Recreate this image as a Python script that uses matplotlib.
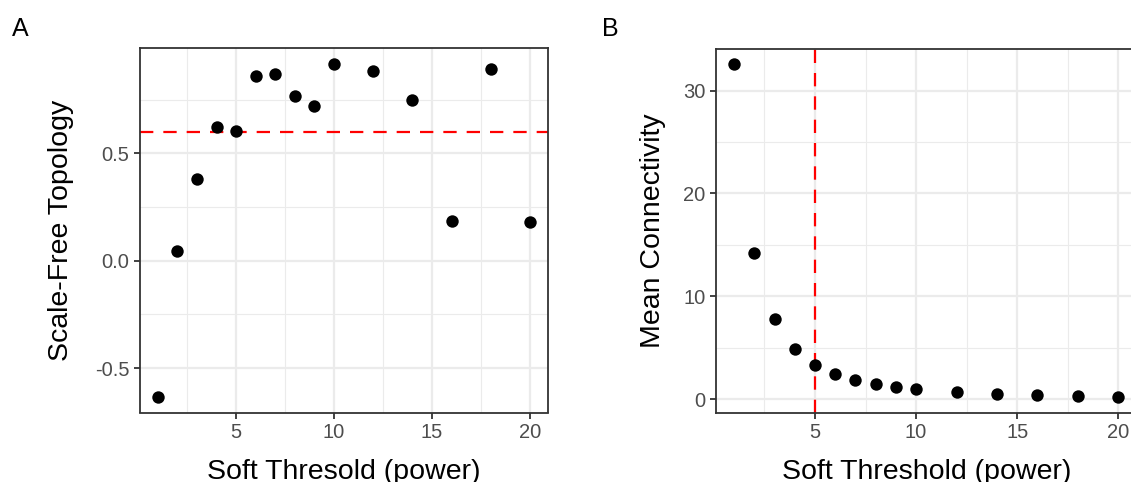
import matplotlib
matplotlib.use("Agg")
import matplotlib.pyplot as plt
from matplotlib.ticker import FixedLocator

plt.rcParams['font.family'] = ['Liberation Sans', 'DejaVu Sans']

power = [1, 2, 3, 4, 5, 6, 7, 8, 9, 10, 12, 14, 16, 18, 20]
sft_r2 = [-0.636, 0.047, 0.379, 0.621, 0.605, 0.862, 0.868, 0.767, 0.722,
          0.915, 0.884, 0.748, 0.185, 0.894, 0.179]
mean_k = [32.56, 14.17, 7.78, 4.86, 3.31, 2.43, 1.85, 1.43, 1.20, 0.94,
          0.65, 0.49, 0.36, 0.29, 0.22]
r2_cut = 0.6
chosen_power = 5

W, H = 1131, 482
fig = plt.figure(figsize=(W / 100, H / 100), dpi=100)

def rect(l, t, r, b):
    return [l / W, (H - b) / H, (r - l) / W, (b - t) / H]

axA = fig.add_axes(rect(140, 48.3, 547.7, 412.5))
axB = fig.add_axes(rect(715.7, 49, 1136.7, 412.7))

grid_c = '#EBEBEB'
border_c = '#333333'
tick_c = '#4D4D4D'

def style(ax, xmaj, xmin, ymaj, ymin):
    ax.set_facecolor('white')
    ax.xaxis.set_major_locator(FixedLocator(xmaj))
    ax.xaxis.set_minor_locator(FixedLocator(xmin))
    ax.yaxis.set_major_locator(FixedLocator(ymaj))
    ax.yaxis.set_minor_locator(FixedLocator(ymin))
    ax.grid(which='major', color=grid_c, linewidth=1.6, zorder=0)
    ax.grid(which='minor', color=grid_c, linewidth=0.8, zorder=0)
    ax.set_axisbelow(True)
    for s in ax.spines.values():
        s.set_color(border_c)
        s.set_linewidth(1.3)
    ax.tick_params(which='major', length=4.5, width=1.3, color=border_c,
                   labelcolor=tick_c, labelsize=14.5, pad=3)
    ax.tick_params(which='minor', length=0)

# Panel A
axA.scatter(power, sft_r2, s=80, color='black', zorder=3, linewidths=0)
axA.axhline(r2_cut, color='#FF0000', linewidth=1.6, linestyle=(0, (6, 4.5)), zorder=2)
axA.set_xlim(0.09, 20.91)
axA.set_ylim(-0.707, 0.989)
style(axA, [5, 10, 15, 20], [2.5, 7.5, 12.5, 17.5], [-0.5, 0.0, 0.5], [-0.25, 0.25, 0.75])
axA.set_yticklabels(['-0.5', '0.0', '0.5'])
axA.set_xlabel('Soft Thresold (power)', fontsize=20.5, labelpad=12)
axA.set_ylabel('Scale-Free Topology', fontsize=20.5, labelpad=15)

# Panel B
axB.scatter(power, mean_k, s=80, color='black', zorder=3, linewidths=0)
axB.axvline(chosen_power, color='#FF0000', linewidth=1.6, linestyle=(0, (6, 4.5)), zorder=2)
axB.set_xlim(0.09, 20.91)
axB.set_ylim(-1.33, 34.05)
style(axB, [5, 10, 15, 20], [2.5, 7.5, 12.5, 17.5], [0, 10, 20, 30], [5, 15, 25])
axB.set_xlabel('Soft Threshold (power)', fontsize=20.5, labelpad=12)
axB.set_ylabel('Mean Connectivity', fontsize=20.5, labelpad=12)

fig.text(12 / W, 1 - 36 / H, 'A', fontsize=18, ha='left', va='baseline')
fig.text(602 / W, 1 - 36 / H, 'B', fontsize=18, ha='left', va='baseline')

fig.savefig('out.png', dpi=100)
